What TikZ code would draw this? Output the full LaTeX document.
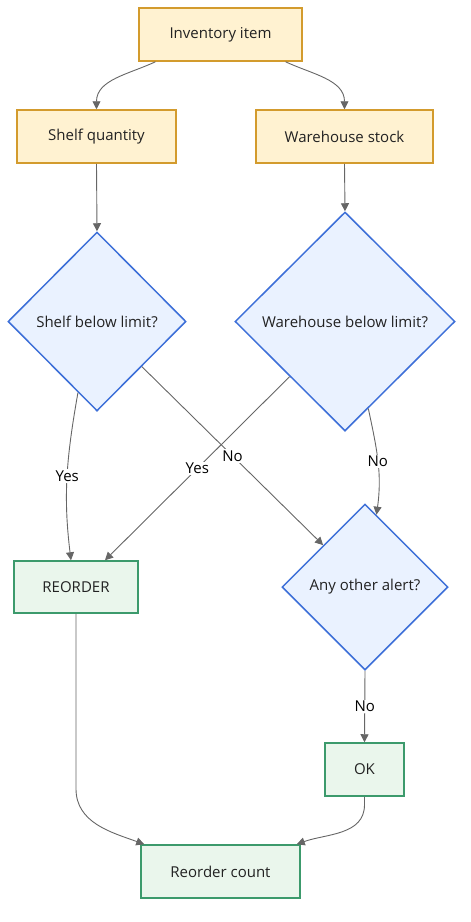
\documentclass[tikz,border=0pt]{standalone}
\usepackage{fontspec}
\setmainfont{Open Sans}
\usetikzlibrary{shapes.geometric,arrows.meta}
\definecolor{srcfill}{HTML}{FFF2D1}
\definecolor{srcline}{HTML}{D39B2D}
\definecolor{askfill}{HTML}{EAF2FF}
\definecolor{askline}{HTML}{3D6FD8}
\definecolor{endfill}{HTML}{EAF6EC}
\definecolor{endline}{HTML}{3C9A6C}
\definecolor{edgegray}{HTML}{666666}
\definecolor{inkgray}{HTML}{222222}
\tikzset{
  srcbox/.style={draw=srcline, fill=srcfill, line width=1.5pt, minimum height=53pt, text=inkgray, font=\fontsize{15}{17}\selectfont},
  askbox/.style={diamond, draw=askline, fill=askfill, line width=1.5pt, inner sep=0pt, text=inkgray, font=\fontsize{15}{17}\selectfont},
  endbox/.style={draw=endline, fill=endfill, line width=1.5pt, minimum height=53pt, text=inkgray, font=\fontsize{15}{17}\selectfont},
  arr/.style={draw=edgegray, line width=0.9pt, -{Stealth[length=8pt,width=8pt,inset=0pt]}},
  lbl/.style={fill=white, inner sep=1.5pt, text=black, font=\fontsize{15}{17}\selectfont}
}
\begin{document}
\begin{tikzpicture}[x=1pt,y=1pt]
			\useasboundingbox (0,0) rectangle (471,-922);
			\node[srcbox, minimum width=163pt] (item) at(220.5,-34.5){Inventory item};
			\node[srcbox, minimum width=159pt] (shelf) at(96.5,-136.5){Shelf quantity};
			\node[srcbox, minimum width=177pt] (stock) at(344.5,-136.5){Warehouse stock};
			\node[askbox, minimum width=178pt, minimum height=179pt] (shelfask) at(97,-321.5){Shelf below limit?};
			\node[askbox, minimum width=220pt, minimum height=219pt] (stockask) at(345,-321.5){Warehouse below limit?};
			\node[endbox, minimum width=124pt, minimum height=52pt] (reorder) at(76,-587){REORDER};
			\node[askbox, minimum width=166pt, minimum height=166pt] (alert) at(365,-587){Any other alert?};
			\node[endbox, minimum width=79pt] (ok) at(364.5,-769.5){OK};
			\node[endbox, minimum width=159pt] (count) at(220.5,-871.5){Reorder count};
			\draw[arr]([xshift=-65pt]item.south) to[out=-155,in=90] (shelf.north);
			\draw[arr]([xshift=65pt]item.south) to[out=-25,in=90] (stock.north);
			\draw[arr](shelf.south)--(shelfask.north);
			\draw[arr](stock.south)--(stockask.north);
			\draw[arr](shelfask.-105) to[out=-100,in=97] node[lbl]{Yes} ([xshift=-5pt]reorder.north);
			\draw[arr](shelfask.south east)--node[lbl]{No}(alert.north west);
			\draw[arr](stockask.south west)--node[lbl]{Yes}([xshift=29pt]reorder.north);
			\draw[arr](stockask.-75) to[out=-78,in=82] node[lbl]{No} (alert.81);
			\draw[arr](alert.south)--node[lbl]{No}(ok.north);
			\draw[arr](reorder.south)--++(0,-175) to[out=-90,in=160] ([xshift=4pt]count.north west);
			\draw[arr](ok.south)--++(0,-8) to[out=-90,in=20] ([xshift=-4pt]count.north east);
			\end{tikzpicture}
\end{document}
